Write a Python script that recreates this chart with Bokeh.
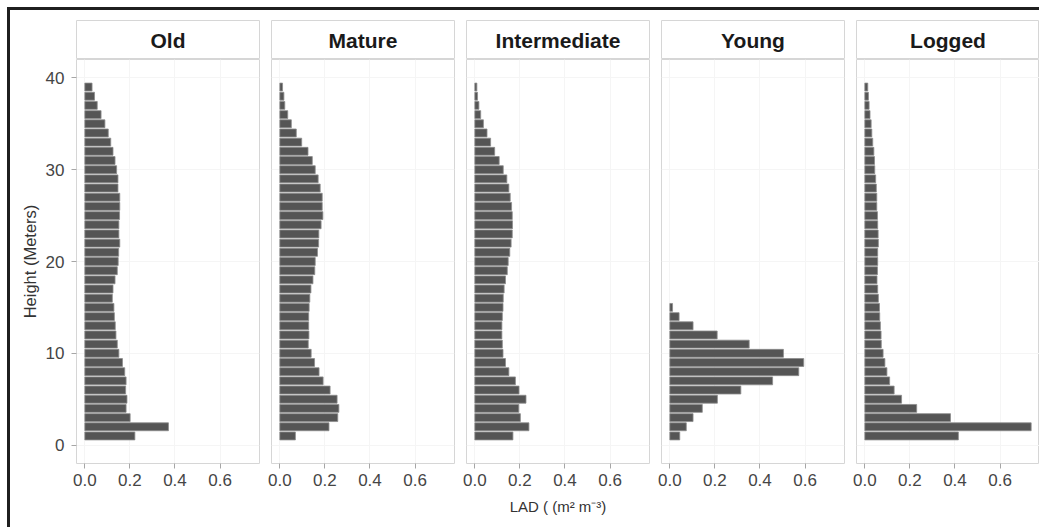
from bokeh.plotting import figure
from bokeh.layouts import column, row
from bokeh.models import FixedTicker, PrintfTickFormatter, Range1d, Div, Spacer
from bokeh.core.properties import value
from bokeh.embed import file_html
from bokeh.resources import INLINE

# Leaf area density (m2 m-3) per 1 m height class, listed from the ground up
stands = ["Old", "Mature", "Intermediate", "Young", "Logged"]

height_m = list(range(1, 40))
young_height_m = list(range(1, 16))

lad_old = [0.222, 0.371, 0.201, 0.183, 0.187, 0.181, 0.183, 0.177, 0.167, 0.151,
           0.144, 0.138, 0.135, 0.131, 0.129, 0.122, 0.125, 0.134, 0.144, 0.148,
           0.150, 0.155, 0.151, 0.151, 0.154, 0.155, 0.155, 0.147, 0.147, 0.141,
           0.134, 0.125, 0.115, 0.104, 0.089, 0.072, 0.055, 0.043, 0.032]
lad_mature = [0.069, 0.218, 0.257, 0.262, 0.254, 0.223, 0.192, 0.174, 0.154, 0.139,
              0.126, 0.129, 0.128, 0.128, 0.130, 0.133, 0.138, 0.147, 0.155, 0.157,
              0.167, 0.172, 0.173, 0.183, 0.191, 0.188, 0.188, 0.179, 0.170, 0.157,
              0.144, 0.125, 0.097, 0.073, 0.051, 0.035, 0.022, 0.018, 0.012]
lad_intermediate = [0.169, 0.240, 0.202, 0.195, 0.227, 0.196, 0.180, 0.151, 0.136, 0.125,
                    0.122, 0.120, 0.120, 0.122, 0.125, 0.126, 0.130, 0.136, 0.144, 0.148,
                    0.155, 0.161, 0.166, 0.167, 0.166, 0.163, 0.157, 0.151, 0.142, 0.126,
                    0.108, 0.088, 0.070, 0.054, 0.038, 0.026, 0.018, 0.012, 0.009]
lad_young = [0.044, 0.073, 0.103, 0.144, 0.211, 0.315, 0.456, 0.572, 0.594, 0.504,
             0.352, 0.210, 0.103, 0.041, 0.012]
lad_logged = [0.415, 0.738, 0.380, 0.230, 0.163, 0.130, 0.110, 0.098, 0.089, 0.081,
              0.073, 0.072, 0.069, 0.066, 0.065, 0.060, 0.057, 0.054, 0.056, 0.057,
              0.057, 0.060, 0.059, 0.057, 0.056, 0.053, 0.053, 0.051, 0.048, 0.044,
              0.043, 0.040, 0.035, 0.031, 0.028, 0.023, 0.019, 0.016, 0.013]

y_ticks = [0, 10, 20, 30, 40]
x_ticks = [0.0, 0.2, 0.4, 0.6]

series = [
    (height_m, lad_old),
    (height_m, lad_mature),
    (height_m, lad_intermediate),
    (young_height_m, lad_young),
    (height_m, lad_logged),
]

FONT = "Liberation Sans"
BORDER = "#d6d6d6"
BAR_FILL = "#555555"
BAR_LINE = "#8c8c8c"
FRAME = "#1f1f1f"

PAGE_W = 1039
PAGE_H = 527
EDGE = 7          # white margin outside the black page frame
EDGE_LINE = 3     # thickness of the black page frame
INSET = EDGE + EDGE_LINE

FRAME_W = 183
STRIP_H = 39
PANEL_H = 404
TOP = 20 - INSET
BOTTOM = 64
side_borders = [(76 - INSET, 6), (6, 6), (6, 6), (6, 6), (6, 0)]

x_range_all = (-0.037, 0.775)
y_range_all = (-2.0, 42.0)


def strip_figure(name, bl, br):
    p = figure(width=bl + FRAME_W + br, height=TOP + STRIP_H,
               x_range=Range1d(0, 1), y_range=Range1d(0, 1),
               x_axis_location=None, y_axis_location=None, title=None,
               toolbar_location=None, output_backend="svg",
               min_border_left=bl, min_border_right=br,
               min_border_top=TOP, min_border_bottom=0)
    p.grid.visible = False
    p.outline_line_color = BORDER
    p.outline_line_width = 1
    p.text(x=[0.5], y=[0.5], text=[name], text_align="center",
           text_baseline="middle", text_font=value(FONT),
           text_font_style="bold", text_font_size="21px", text_color="#1a1a1a")
    return p


def panel_figure(i, hts, lad, bl, br):
    first = i == 0
    p = figure(width=bl + FRAME_W + br, height=PANEL_H + BOTTOM,
               x_range=Range1d(*x_range_all), y_range=Range1d(*y_range_all),
               y_axis_location="left" if first else None, title=None,
               toolbar_location=None, output_backend="svg",
               min_border_left=bl, min_border_right=br,
               min_border_top=0, min_border_bottom=BOTTOM)
    p.outline_line_color = BORDER
    p.outline_line_width = 1
    p.xgrid.ticker = FixedTicker(ticks=x_ticks)
    p.ygrid.ticker = FixedTicker(ticks=y_ticks)
    p.grid.grid_line_color = "#f5f5f5"
    p.grid.grid_line_width = 1

    p.hbar(y=hts, left=0, right=lad, height=0.86,
           fill_color=BAR_FILL, line_color=BAR_LINE, line_width=0.8)

    xa = p.xaxis[0]
    xa.ticker = FixedTicker(ticks=x_ticks)
    xa.formatter = PrintfTickFormatter(format="%.1f")
    xa.axis_line_color = None
    xa.major_tick_line_color = "#a6a6a6"
    xa.major_tick_out = 5
    xa.major_tick_in = 0
    xa.minor_tick_line_color = None
    xa.major_label_standoff = 5
    xa.major_label_text_font = FONT
    xa.major_label_text_font_size = "17px"
    xa.major_label_text_color = "#454545"
    if i == 2:
        xa.axis_label = "LAD ( (m\u00b2 m\u207b\u00b3)"
        xa.axis_label_text_font = FONT
        xa.axis_label_text_font_style = "normal"
        xa.axis_label_text_font_size = "15px"
        xa.axis_label_text_color = "#333333"
        xa.axis_label_standoff = 9

    if first:
        ya = p.yaxis[0]
        ya.ticker = FixedTicker(ticks=y_ticks)
        ya.axis_line_color = None
        ya.major_tick_line_color = "#a6a6a6"
        ya.major_tick_out = 5
        ya.major_tick_in = 0
        ya.minor_tick_line_color = None
        ya.major_label_standoff = 7
        ya.major_label_text_font = FONT
        ya.major_label_text_font_size = "17px"
        ya.major_label_text_color = "#454545"
        ya.axis_label = "Height (Meters)"
        ya.axis_label_text_font = FONT
        ya.axis_label_text_font_style = "normal"
        ya.axis_label_text_font_size = "16.5px"
        ya.axis_label_text_color = "#333333"
        ya.axis_label_standoff = 4
    return p


strips = []
panels = []
for i, (name, (hts, lad), (bl, br)) in enumerate(zip(stands, series, side_borders)):
    strips.append(strip_figure(name, bl, br))
    panels.append(panel_figure(i, hts, lad, bl, br))

facets = column(row(*strips, spacing=0), row(*panels, spacing=0), spacing=0)

# black page frame along the top and left edges
top_rule = Div(text="", width=PAGE_W - EDGE, height=EDGE_LINE, margin=(0, 0, 0, 0),
               styles={"background-color": FRAME})
left_rule = Div(text="", width=EDGE_LINE, height=PAGE_H - INSET, margin=(0, 0, 0, 0),
                styles={"background-color": FRAME})

layout = column(
    Spacer(width=PAGE_W, height=EDGE, margin=(0, 0, 0, 0)),
    row(Spacer(width=EDGE, height=PAGE_H - EDGE, margin=(0, 0, 0, 0)),
        column(top_rule,
               row(left_rule, facets, spacing=0),
               spacing=0),
        spacing=0),
    spacing=0,
)

open("out.html", "w").write(file_html(layout, INLINE))
